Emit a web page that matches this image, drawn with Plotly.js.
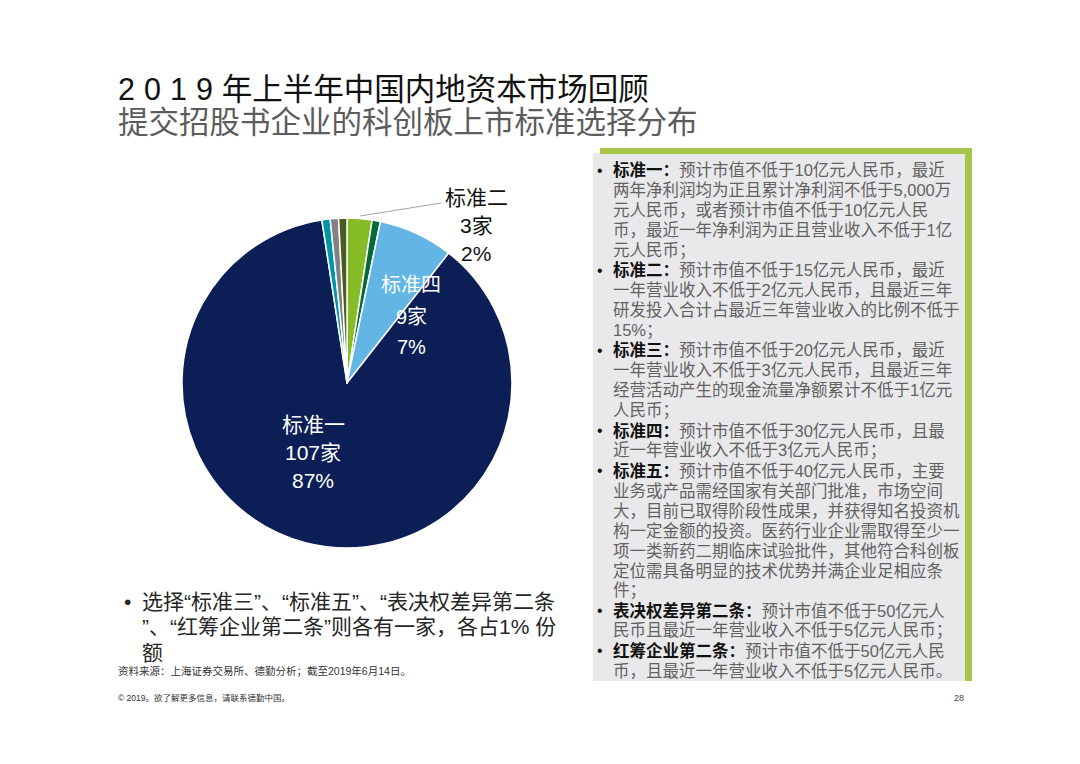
<!DOCTYPE html>
<html><head><meta charset="utf-8">
<script src="https://cdn.plot.ly/plotly-3.0.1.min.js"></script>
<style>html,body{margin:0;padding:0;background:#fff;}#chart{width:1080px;height:764px;}</style>
</head><body><div id="chart"></div>
<script>
// ---- data ----
const categories = ['标准二', '标准三', '标准四', '标准一', '标准五', '表决权差异第二条', '红筹企业第二条'];
const companyCounts = [3, 1, 9, 107, 1, 1, 1];
const unitLabel = '家';

const titleYear = '2019';
const titleLine1Rest = '年上半年中国内地资本市场回顾';
const titleLine2 = '提交招股书企业的科创板上市标准选择分布';

const boxLines = [
  ['标准一：', '预计市值不低于10亿元人民币，最近'],
  ['', '两年净利润均为正且累计净利润不低于5,000万'],
  ['', '元人民币，或者预计市值不低于10亿元人民'],
  ['', '币，最近一年净利润为正且营业收入不低于1亿'],
  ['', '元人民币；'],
  ['标准二：', '预计市值不低于15亿元人民币，最近'],
  ['', '一年营业收入不低于2亿元人民币，且最近三年'],
  ['', '研发投入合计占最近三年营业收入的比例不低于'],
  ['', '15%；'],
  ['标准三：', '预计市值不低于20亿元人民币，最近'],
  ['', '一年营业收入不低于3亿元人民币，且最近三年'],
  ['', '经营活动产生的现金流量净额累计不低于1亿元'],
  ['', '人民币；'],
  ['标准四：', '预计市值不低于30亿元人民币，且最'],
  ['', '近一年营业收入不低于3亿元人民币；'],
  ['标准五：', '预计市值不低于40亿元人民币，主要'],
  ['', '业务或产品需经国家有关部门批准，市场空间'],
  ['', '大，目前已取得阶段性成果，并获得知名投资机'],
  ['', '构一定金额的投资。医药行业企业需取得至少一'],
  ['', '项一类新药二期临床试验批件，其他符合科创板'],
  ['', '定位需具备明显的技术优势并满企业足相应条'],
  ['', '件；'],
  ['表决权差异第二条：', '预计市值不低于50亿元人'],
  ['', '民币且最近一年营业收入不低于5亿元人民币；'],
  ['红筹企业第二条：', '预计市值不低于50亿元人民'],
  ['', '币，且最近一年营业收入不低于5亿元人民币。']
];

const noteLines = [
  '选择“标准三”、“标准五”、“表决权差异第二条',
  '”、“红筹企业第二条”则各有一家，各占1% 份',
  '额'
];
const sourceText = '资料来源：上海证券交易所、德勤分析；截至2019年6月14日。';
const footerText = '© 2019。欲了解更多信息，请联系德勤中国。';
const pageNumber = '28';

// ---- styles ----
const sliceColors = ['#86bc25', '#046a38', '#62b5e5', '#0b1f56', '#0097a9', '#808285', '#4a5d1f'];
const FONT = 'Liberation Sans, Arial, Noto Sans CJK SC, sans-serif';
const W = 1080, H = 764;
const px = x => x / W;
const py = y => 1 - y / H;

const total = companyCounts.reduce((a, b) => a + b, 0);
const pct = v => Math.round(v / total * 100) + '%';
const idx = name => categories.indexOf(name);

const cx = 347, cy = 383, r = 165;

const pieTrace = {
  type: 'pie',
  labels: categories,
  values: companyCounts,
  sort: false,
  direction: 'clockwise',
  rotation: 0,
  textinfo: 'none',
  hoverinfo: 'label+value+percent',
  marker: { colors: sliceColors, line: { color: '#ffffff', width: 1.5 } },
  domain: { x: [px(cx - r), px(cx + r)], y: [py(cy + r), py(cy - r)] },
  showlegend: false
};

const ann = [];
function addText(x, y, text, size, color, xanchor) {
  ann.push({ xref: 'paper', yref: 'paper', x: px(x), y: py(y), text: text, showarrow: false,
    xanchor: xanchor || 'left', yanchor: 'middle', align: xanchor === 'center' ? 'center' : 'left',
    font: { family: FONT, size: size, color: color } });
}

// titles
addText(116, 89, '<span style="letter-spacing:9px">' + titleYear + '</span>' + titleLine1Rest, 30.5, '#111111');
addText(116, 122, titleLine2, 30.5, '#5c5c5c');

// pie labels
const i1 = idx('标准一'), i4 = idx('标准四'), i2 = idx('标准二');
addText(313, 424, categories[i1], 21, '#ffffff', 'center');
addText(313, 452, companyCounts[i1] + unitLabel, 21, '#ffffff', 'center');
addText(313, 480, pct(companyCounts[i1]), 21, '#ffffff', 'center');
addText(411, 285, categories[i4], 20, '#ffffff', 'center');
addText(411, 317, companyCounts[i4] + unitLabel, 20, '#ffffff', 'center');
addText(411, 347, pct(companyCounts[i4]), 20, '#ffffff', 'center');
addText(476, 197, categories[i2], 21, '#111111', 'center');
addText(476, 225, companyCounts[i2] + unitLabel, 21, '#111111', 'center');
addText(476, 253, pct(companyCounts[i2]), 21, '#111111', 'center');

// box text
boxLines.forEach((ln, k) => {
  const y = 170 + k * 20.04;
  if (ln[0]) addText(595, y, '•', 16, '#111111');
  const t = (ln[0] ? '<b><span style="color:#111111">' + ln[0] + '</span></b>' : '') + ln[1];
  addText(611, y, t, 16.5, '#626262');
});

// note
addText(122, 601, '•', 21, '#262626');
noteLines.forEach((t, k) => addText(140, 601 + k * 25.5, t, 21, '#262626'));

addText(116, 671, sourceText, 10.5, '#333333');
addText(116, 698, footerText, 8.5, '#333333');
addText(966, 698, pageNumber, 9, '#444444', 'right');

const shapes = [
  { type: 'rect', xref: 'paper', yref: 'paper', x0: px(593), x1: px(966), y0: py(681), y1: py(153), fillcolor: '#e9e9eb', line: { width: 0 }, layer: 'below' },
  { type: 'rect', xref: 'paper', yref: 'paper', x0: px(600), x1: px(972), y0: py(154), y1: py(148), fillcolor: '#a8c64a', line: { width: 0 }, layer: 'below' },
  { type: 'rect', xref: 'paper', yref: 'paper', x0: px(965), x1: px(972), y0: py(681), y1: py(148), fillcolor: '#a8c64a', line: { width: 0 }, layer: 'below' },
  { type: 'line', xref: 'paper', yref: 'paper', x0: px(360), y0: py(216), x1: px(441), y1: py(203), line: { color: '#a6a6a6', width: 1 } }
];

const layout = {
  width: W, height: H,
  margin: { l: 0, r: 0, t: 0, b: 0 },
  paper_bgcolor: '#ffffff',
  plot_bgcolor: '#ffffff',
  showlegend: false,
  annotations: ann,
  shapes: shapes
};

Plotly.newPlot('chart', [pieTrace], layout, { displayModeBar: false, staticPlot: true });
</script>
</body></html>
